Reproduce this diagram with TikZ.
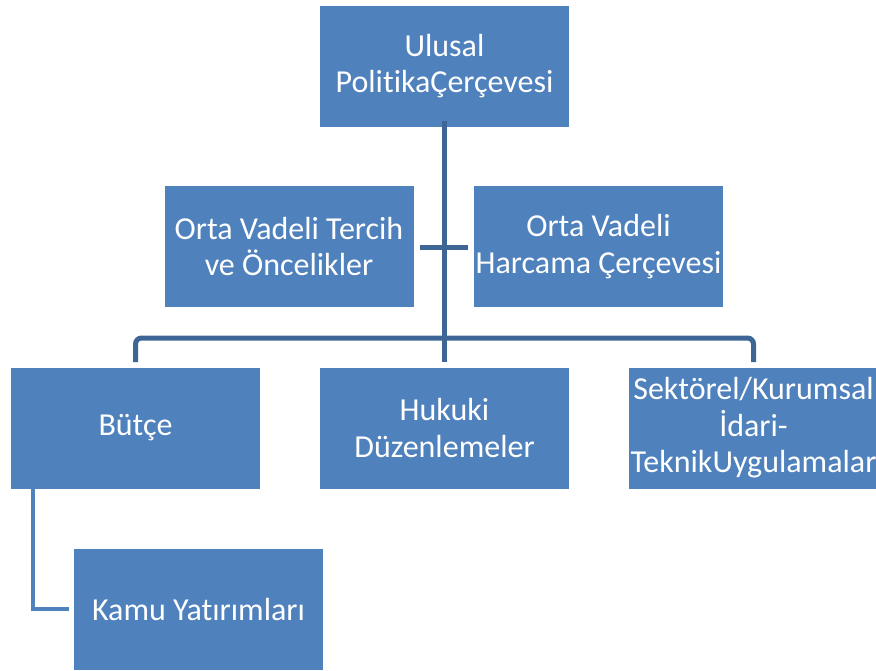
\documentclass[tikz,border=0pt]{standalone}
\usepackage{fontspec}
\setmainfont{Carlito}[Ligatures={NoCommon}]
\definecolor{boxblue}{HTML}{4F81BD}
\definecolor{lineblue}{HTML}{3D6697}
\begin{document}
\begin{tikzpicture}[x=1pt,y=-1pt,
  orgbox/.style={rectangle, fill=boxblue, text=white, minimum width=249pt, minimum height=121pt, inner sep=0pt, align=center, font=\fontsize{32}{36.5}\selectfont},
  conn/.style={draw=lineblue, line width=5pt},
  conn2/.style={draw=boxblue, line width=4pt}]
\useasboundingbox (0,0) rectangle (876,670);
\begin{scope}
\clip (0,0) rectangle (876,670);
\node[orgbox] (top) at (444.5,66) {Ulusal\\PolitikaÇerçevesi};
\node[orgbox] (ovt) at (289,246.5) {Orta Vadeli Tercih\\ve Öncelikler};
\node[orgbox] (ovh) at (598.5,246.5) {Orta Vadeli\\Harcama Çerçevesi};
\node[orgbox] (but) at (135.5,428) {Bütçe};
\node[orgbox] (huk) at (444.5,428) {Hukuki\\Düzenlemeler};
\node[orgbox] (sek) at (753.5,428) {Sektörel/Kurumsal\\İdari-\\TeknikUygulamalar};
\node[orgbox] (kam) at (198.5,609) {Kamu Yatırımları};

\coordinate (trunkend) at (444.5,362);
\coordinate (barL) at (420,247);
\coordinate (barR) at (468,247);
\coordinate (bl) at (135.5,362);
\coordinate (br) at (753.5,362);
\coordinate (kl) at (33,609);

\draw[conn] ([yshift=6pt]top.south) -- (trunkend);
\draw[conn] (barL) -- (barR);
\draw[conn, rounded corners=6pt] (bl) -- (135.5,338) -- (753.5,338) -- (br);
\draw[conn2] ([yshift=5pt]but.south -| kl) -- (kl) -- ([xshift=-5pt]kam.west);
\end{scope}
\end{tikzpicture}
\end{document}
